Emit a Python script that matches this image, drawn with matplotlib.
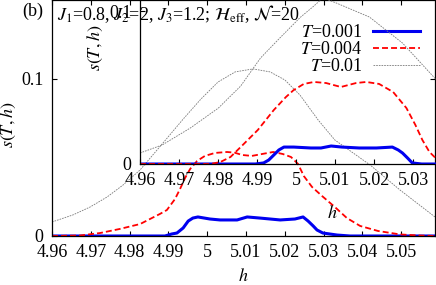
import matplotlib
matplotlib.use('Agg')
import matplotlib.pyplot as plt

plt.rcParams.update({'font.family': ['Liberation Serif', 'DejaVu Serif'], 'mathtext.fontset': 'stix',
                     'font.size': 13, 'xtick.direction': 'in', 'ytick.direction': 'in',
                     'xtick.major.size': 3.5, 'ytick.major.size': 3.5,
                     'xtick.major.width': 0.8, 'ytick.major.width': 0.8, 'axes.linewidth': 0.9})

W, H = 436, 285
BLUE = '#0000f0'; RED = '#ff0000'; GRAY = '#7a7a7a'

# main panel, T=0.001
h_b = [4.9600, 4.9891, 4.9909, 4.9922, 4.9938, 4.9951, 4.9963, 4.9976, 5.0007, 5.0033, 5.0077, 5.0103,
       5.0136, 5.0162, 5.0188, 5.0226, 5.0247, 5.0260, 5.0273, 5.0283, 5.0298, 5.0335, 5.0368, 5.0587]
s_b = [0, 0, 0.0013, 0.0019, 0.0051, 0.0095, 0.0114, 0.0121, 0.0108, 0.0102, 0.0102, 0.0121,
       0.0114, 0.0108, 0.0102, 0.0108, 0.0121, 0.0095, 0.0064, 0.0038, 0.0019, 0.0006, 0, 0]
# main panel, T=0.004
h_r = [4.9600, 4.9672, 4.9724, 4.9775, 4.9827, 4.9878, 4.9896, 4.9917, 4.9930, 4.9943, 4.9956, 4.9974,
       4.9994, 5.0020, 5.0051, 5.0070, 5.0090, 5.0115, 5.0141, 5.0170, 5.0195, 5.0216, 5.0234, 5.0249,
       5.0270, 5.0296, 5.0329, 5.0360, 5.0394, 5.0440, 5.0497, 5.0548, 5.0587]
s_r = [0, 0.0003, 0.0019, 0.0045, 0.0076, 0.0140, 0.0165, 0.0235, 0.0299, 0.0369, 0.0426, 0.0477,
       0.0509, 0.0528, 0.0534, 0.0530, 0.0515, 0.0509, 0.0521, 0.0534, 0.0521, 0.0502, 0.0458, 0.0381,
       0.0312, 0.0254, 0.0184, 0.0114, 0.0064, 0.0032, 0.0010, 0.0003, 0]
# main panel, T=0.01
h_g = [4.9600, 4.9654, 4.9698, 4.9742, 4.9783, 4.9827, 4.9886, 4.9938, 4.9984, 5.0028, 5.0072, 5.0118,
       5.0162, 5.0200, 5.0239, 5.0286, 5.0329, 5.0420, 5.0497, 5.0587]
s_g = [0.0089, 0.0134, 0.0184, 0.0248, 0.0324, 0.0420, 0.0591, 0.0743, 0.0871, 0.0979, 0.1043, 0.1062,
       0.1043, 0.0992, 0.0896, 0.0737, 0.0610, 0.0451, 0.0292, 0.0121]

# inset, T=0.001
hi_b = [4.9600, 4.9896, 4.9917, 4.9930, 4.9943, 4.9956, 4.9969, 4.9994, 5.0038, 5.0064, 5.0090, 5.0118,
        5.0162, 5.0206, 5.0247, 5.0262, 5.0273, 5.0286, 5.0298, 5.0322, 5.0587]
si_b = [0, 0, 0.0007, 0.0026, 0.0059, 0.0092, 0.0111, 0.0111, 0.0105, 0.0105, 0.0118, 0.0111,
        0.0105, 0.0105, 0.0111, 0.0092, 0.0072, 0.0039, 0.0007, 0, 0]
# inset, T=0.004
hi_r = [4.9600, 4.9780, 4.9806, 4.9832, 4.9858, 4.9902, 4.9943, 4.9974, 4.9994, 5.0020, 5.0046, 5.0077,
        5.0115, 5.0154, 5.0180, 5.0213, 5.0249, 5.0283, 5.0306, 5.0324, 5.0342, 5.0363, 5.0399]
si_r = [0, 0, 0.0013, 0.0046, 0.0111, 0.0223, 0.0354, 0.0439, 0.0485, 0.0525, 0.0538, 0.0531,
        0.0505, 0.0531, 0.0538, 0.0525, 0.0472, 0.0367, 0.0256, 0.0157, 0.0079, 0.0026, 0]
# inset, T=0.01
hi_g = [4.9600, 4.9657, 4.9729, 4.9801, 4.9858, 4.9909, 4.9961, 5.0012, 5.0043, 5.0069, 5.0103, 5.0188,
        5.0273, 5.0360]
si_g = [0.0072, 0.0125, 0.0236, 0.0367, 0.0511, 0.0695, 0.0833, 0.0964, 0.1030, 0.1089, 0.1056, 0.0964,
        0.0793, 0.0551]

xticks = [4.96, 4.97, 4.98, 4.99, 5.00, 5.01, 5.02, 5.03, 5.04, 5.05]
xlabels = ['4.96', '4.97', '4.98', '4.99', '5', '5.01', '5.02', '5.03', '5.04', '5.05']
yticks = [0, 0.1]
ylabels = ['0', '0.1']
XLIM = (4.96, 5.0587); YLIM = (0, 0.15)

DASH = (0, (3.3, 1.7)); DOT = (0, (2, 1.2))

fig = plt.figure(figsize=(W/100, H/100), dpi=100)
ax = fig.add_axes([52/W, 49/H, 383/W, 236/H])
ax.plot(h_b, s_b, color=BLUE, lw=2.2, label='$T$=0.001')
ax.plot(h_r, s_r, color=RED, lw=1.3, ls=DASH, label='$T$=0.004')
ax.plot(h_g, s_g, color=GRAY, lw=0.6, ls=DOT, label='$T$=0.01')
ax.set_xlim(*XLIM); ax.set_ylim(*YLIM)
ax.set_xticks(xticks); ax.set_xticklabels(xlabels)
ax.set_yticks(yticks); ax.set_yticklabels(ylabels)
ax.tick_params(top=True, right=True, pad=6)
ax.set_xlabel('$h$', labelpad=5)

ins = fig.add_axes([140/W, 121/H, 385/W, 228.75/H])
ins.set_facecolor('none')
ins.plot(hi_b, si_b, color=BLUE, lw=2.2)
ins.plot(hi_r, si_r, color=RED, lw=1.3, ls=DASH)
ins.plot(hi_g, si_g, color=GRAY, lw=0.6, ls=DOT)
ins.set_xlim(*XLIM); ins.set_ylim(*YLIM)
ins.set_xticks(xticks); ins.set_xticklabels(xlabels)
ins.set_yticks(yticks); ins.set_yticklabels(ylabels)
ins.tick_params(pad=6)
ins.set_xlabel('$h$', labelpad=11)

fig.text(8/W, 1-125/H, '$s(T,h)$', rotation=90, ha='center', va='center')
fig.text(95/W, 1-48/H, '$s(T,h)$', rotation=90, ha='center', va='center')
fig.text(22/W, 1-11/H, '(b)', ha='left', va='center')
fig.text(57/W, 1-14/H, r'$J_1$=0.8, $J_2$=2, $J_3$=1.2; $\mathcal{H}_{\rm eff}$, $\mathcal{N}$=20',
         ha='left', va='center')

ax.legend(loc='upper right', bbox_to_anchor=(420/W, 1-24/H), bbox_transform=fig.transFigure,
          frameon=False, markerfirst=False, handlelength=2.6, handletextpad=0.6,
          labelspacing=0.0, borderpad=0, borderaxespad=0)

fig.savefig('out.png', dpi=100)
